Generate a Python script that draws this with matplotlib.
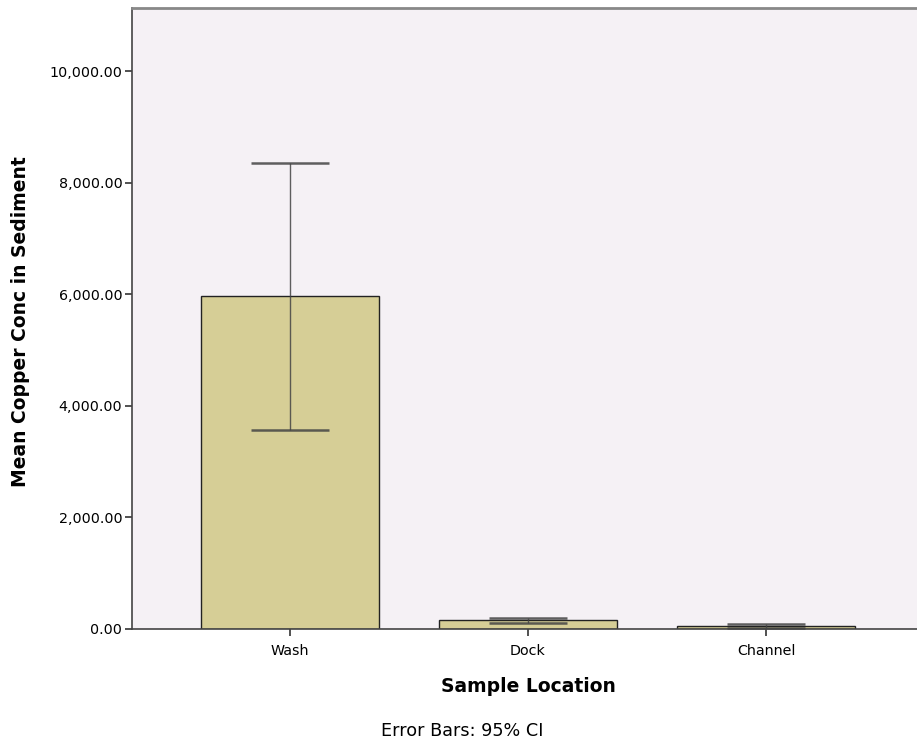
import matplotlib
matplotlib.use("Agg")
import matplotlib.pyplot as plt
import numpy as np

categories = ["Wash", "Dock", "Channel"]
means = [5960, 156, 50]
ci_low = [3570, 102, 25]
ci_high = [8360, 197, 84]
yticks = [0, 2000, 4000, 6000, 8000, 10000]

plt.rcParams['font.family'] = ['DejaVu Sans']

fig = plt.figure(figsize=(9.17, 7.43), dpi=100)
ax = fig.add_axes([132/917, 114/743, 792/917, 621/743])
ax.set_facecolor('#F5F1F5')

x = np.arange(len(categories))
ax.bar(x, means, width=0.75, color='#D6CE96', edgecolor='#222222', linewidth=1.0, zorder=2)
lower = np.array(means) - np.array(ci_low)
upper = np.array(ci_high) - np.array(means)
ax.errorbar(x, means, yerr=[lower, upper], fmt='none', ecolor='#444444',
            elinewidth=1.0, capsize=28, capthick=1.8, zorder=3, alpha=0.85)

ax.set_xlim(-0.664, 2.664)
ax.set_ylim(0, 11130)
ax.set_yticks(yticks)
ax.set_yticklabels([f"{v:,.2f}" for v in yticks], fontsize=10.3)
ax.set_xticks(x)
ax.set_xticklabels(categories, fontsize=10.3)
ax.tick_params(axis='both', direction='out', length=5, width=1.2, color='#333333')
ax.tick_params(axis='x', pad=6)
ax.tick_params(axis='y', pad=2)

for s in ['left', 'bottom']:
    ax.spines[s].set_color('#444444')
    ax.spines[s].set_linewidth(1.2)
ax.spines['top'].set_color('#888888')
ax.spines['top'].set_linewidth(2)
ax.spines['right'].set_visible(False)

ax.set_ylabel("Mean Copper Conc in Sediment", fontsize=13.5, fontweight='bold', va='center')
ax.yaxis.set_label_coords((20 - 132) / 792, (629 - 322) / 621)
ax.set_xlabel("Sample Location", fontsize=13.5, fontweight='bold', va='center')
ax.xaxis.set_label_coords((528 - 132) / 792, (629 - 687) / 621)

fig.text(462/917, 1 - 731/743, "Error Bars: 95% CI", ha='center', va='center', fontsize=12.7)

fig.savefig("out.png", dpi=100)
